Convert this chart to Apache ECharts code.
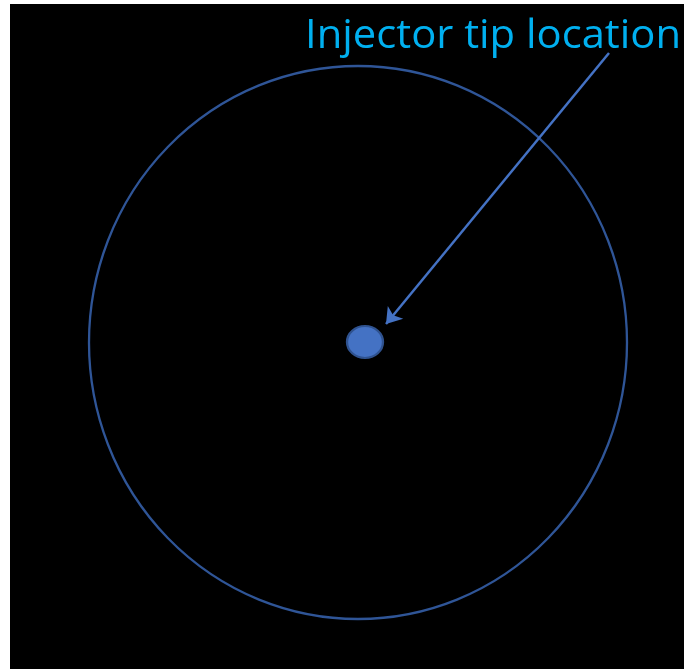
<!DOCTYPE html>
<html>
<head>
<meta charset="UTF-8">
<title>Injector tip location</title>
<script src="https://cdn.jsdelivr.net/npm/echarts@6/dist/echarts.min.js"></script>
<style>
  html, body { margin: 0; padding: 0; background: #fff; }
  #chart { width: 684px; height: 669px; }
</style>
</head>
<body>
<div id="chart"></div>
<script type="text/javascript">
    // picture space, in pixels of the original slide
    var extent = [684, 669];
    var panel = [10, 4, 674, 665];            // black slide area: x, y, w, h

    // outer ring and the injector tip: cx, cy, rx, ry
    var ring = [358, 342.5, 269, 276.5];
    var tip = [365, 342, 18, 16];

    // callout arrow: from the label down to the tip
    var arrowFrom = [609, 53];
    var arrowTo = [386, 324];

    var labelText = 'Injector tip location';
    var labelPos = [305, 57];                 // left, bottom of text box
    var labelWidth = 376;
    var labelSize = 41;
    var labelFont = '"Open Sans", "Noto Sans", sans-serif';

    // squeeze the label to the width it has in the picture
    var cv = document.createElement('canvas').getContext('2d');
    cv.font = labelSize + 'px ' + labelFont;
    var labelScale = labelWidth / cv.measureText(labelText).width;

    var myChart = echarts.init(document.getElementById('chart'));

    function ellipseItem(stroke, fill, lw) {
        return function (params, api) {
            var c = api.coord([api.value(0), api.value(1)]);
            var s = api.size([api.value(2), api.value(3)]);
            return {
                type: 'circle',
                x: c[0], y: c[1],
                scaleY: s[1] / s[0],
                shape: { cx: 0, cy: 0, r: s[0] },
                style: { fill: fill, stroke: stroke, lineWidth: lw, strokeNoScale: true }
            };
        };
    }

    option = {
        backgroundColor: '#ffffff',
        animation: false,
        graphic: [{
            type: 'rect',
            left: panel[0], top: panel[1], z: -10,
            shape: { width: panel[2], height: panel[3] },
            style: { fill: '#000000' }
        }],
        grid: { left: 0, right: 0, top: 0, bottom: 0 },
        xAxis: { type: 'value', min: 0, max: extent[0], show: false },
        yAxis: { type: 'value', min: 0, max: extent[1], inverse: true, show: false },
        series: [{
            type: 'custom',
            name: 'ring',
            renderItem: ellipseItem('#2F5597', 'none', 2.3),
            data: [ring]
        }, {
            type: 'custom',
            name: 'tip',
            renderItem: ellipseItem('#2F528F', '#4472C4', 2.3),
            data: [tip]
        }, {
            type: 'lines',
            coordinateSystem: 'cartesian2d',
            symbol: ['none', 'arrow'],
            symbolSize: 15,
            lineStyle: { color: '#4472C4', width: 2.5, opacity: 1, curveness: 0 },
            data: [{ coords: [arrowFrom, arrowTo] }]
        }, {
            type: 'custom',
            name: 'label',
            renderItem: function (params, api) {
                var c = api.coord([api.value(0), api.value(1)]);
                return {
                    type: 'text',
                    x: c[0], y: c[1],
                    scaleX: labelScale,
                    style: {
                        text: labelText,
                        fill: '#00B0F0',
                        font: labelSize + 'px ' + labelFont,
                        align: 'left',
                        verticalAlign: 'bottom'
                    }
                };
            },
            data: [labelPos]
        }]
    };
    myChart.setOption(option);
</script>
</body>
</html>
